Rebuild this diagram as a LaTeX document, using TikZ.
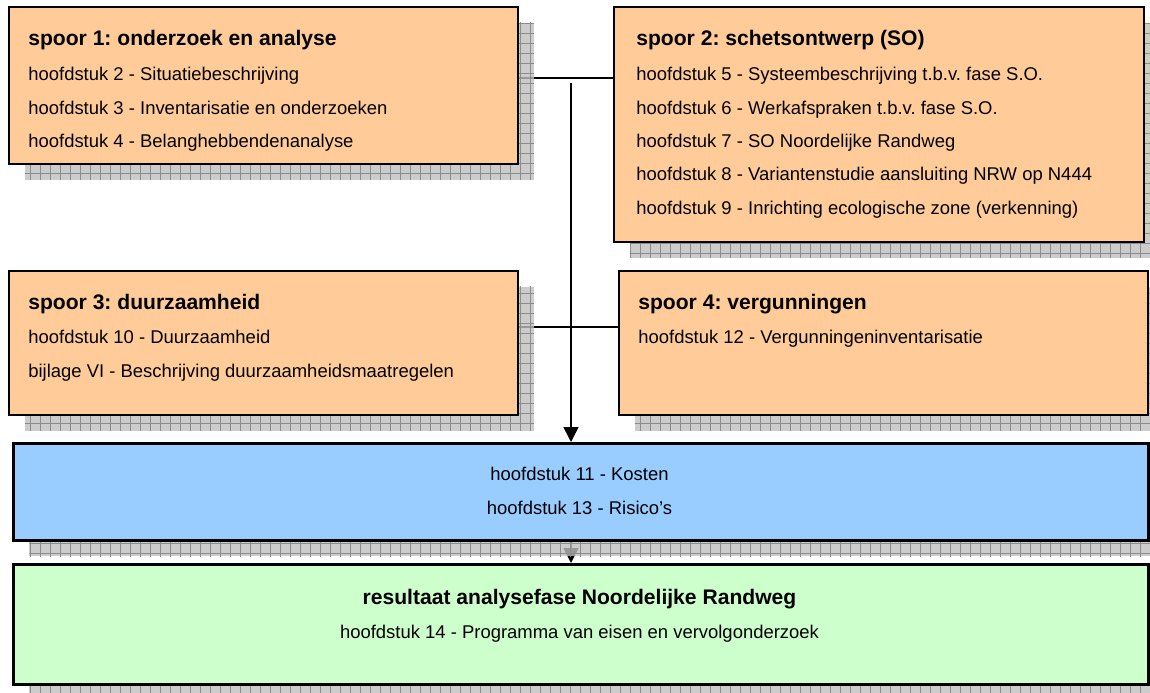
\documentclass[tikz,border=0pt]{standalone}
\usepackage{fontspec}
\setmainfont{Liberation Sans}
\frenchspacing
\usetikzlibrary{arrows.meta,patterns.meta,backgrounds}

\definecolor{peach}{HTML}{FFCC99}
\definecolor{skyblue}{HTML}{99CCFF}
\definecolor{mintgreen}{HTML}{CCFFCC}

\tikzset{
  shadowed/.style={
    preaction={fill=black!25, fill opacity=0.8,
      transform canvas={shift={(0.32,-0.32)}}},
    preaction={pattern={Hatch[angle=0,distance=0.2cm,line width=0.4pt]},
      pattern color=black!45, transform canvas={shift={(0.32,-0.32)}}}
  },
  spoorbox/.style={
    rectangle,
    draw,
    line width=1.1pt,
    fill=peach,
    shadowed,
    anchor=north west,
    inner sep=0pt
  },
  mainbox/.style={
    spoorbox,
    line width=1.7pt
  },
  title/.style={
    anchor=base west,
    inner sep=0pt,
    font=\fontsize{12}{14}\selectfont\bfseries
  },
  item/.style={
    anchor=base west,
    inner sep=0pt,
    font=\fontsize{10.5}{13}\selectfont
  },
  link/.style={
    line width=0.9pt
  },
}

\begin{document}
\begin{tikzpicture}
  \useasboundingbox (0,0) rectangle (23,-13.86);
  \clip (0,0) rectangle (23,-13.86);

  \node[spoorbox, minimum width=10.18cm, minimum height=3.14cm] (spoor1) at (0.16,-0.12) {};
  \node[spoorbox, minimum width=10.6cm, minimum height=4.7cm] (spoor2) at (12.26,-0.12) {};
  \node[spoorbox, minimum width=10.18cm, minimum height=2.88cm] (spoor3) at (0.16,-5.4) {};
  \node[spoorbox, minimum width=10.58cm, minimum height=2.88cm] (spoor4) at (12.36,-5.4) {};
  \node[mainbox, fill=skyblue, minimum width=22.7cm, minimum height=1.94cm] (kosten) at (0.24,-8.84) {};
  \node[mainbox, fill=mintgreen, minimum width=22.7cm, minimum height=2.4cm] (resultaat) at (0.24,-11.26) {};

  \node[title] (t1) at (0.56,-0.92) {spoor 1: onderzoek en analyse};
  \foreach \t [count=\i] in {hoofdstuk 2 - Situatiebeschrijving,
      hoofdstuk 3 - Inventarisatie en onderzoeken,
      hoofdstuk 4 - Belanghebbendenanalyse}
    \node[item] (h1-\i) at (0.56,-0.95-0.667*\i) {\t};

  \node[title] (t2) at (12.72,-0.92) {spoor 2: schetsontwerp (SO)};
  \foreach \t [count=\i] in {hoofdstuk 5 - Systeembeschrijving t.b.v. fase S.O.,
      hoofdstuk 6 - Werkafspraken t.b.v. fase S.O.,
      hoofdstuk 7 - SO Noordelijke Randweg,
      hoofdstuk 8 - Variantenstudie aansluiting NRW op N444,
      hoofdstuk 9 - Inrichting ecologische zone (verkenning)}
    \node[item] (h2-\i) at (12.72,-0.95-0.667*\i) {\t};

  \node[title] (t3) at (0.56,-6.2) {spoor 3: duurzaamheid};
  \foreach \t [count=\i] in {hoofdstuk 10 - Duurzaamheid,
      bijlage VI - Beschrijving duurzaamheidsmaatregelen}
    \node[item] (h3-\i) at (0.56,-6.2-0.68*\i) {\t};

  \node[title] (t4) at (12.76,-6.2) {spoor 4: vergunningen};
  \node[item] (h4-1) at (12.76,-6.88) {hoofdstuk 12 - Vergunningeninventarisatie};

  \node[item, anchor=base] (h5-1) at (11.59,-9.6) {hoofdstuk 11 - Kosten};
  \node[item, anchor=base] (h5-2) at (11.59,-10.28) {hoofdstuk 13 - Risico's};

  \node[title, anchor=base] (t6) at (11.59,-12.08) {resultaat analysefase Noordelijke Randweg};
  \node[item, anchor=base] (h6-1) at (11.59,-12.76) {hoofdstuk 14 - Programma van eisen en vervolgonderzoek};

  \coordinate (j12) at (11.42,-1.56);
  \coordinate (j34) at (11.42,-6.54);
  \coordinate (top) at (11.42,-1.66);

  \begin{pgfonlayer}{background}
    \draw[link] (spoor1.east |- j12) -- (spoor2.west |- j12);
    \draw[link] (spoor3.east |- j34) -- (spoor4.west |- j34);
    \draw[link, -{Triangle[width=0.3cm,length=0.3cm]}] (top) -- (kosten.north -| top);
    \draw[link, -{Triangle[width=0.3cm,length=0.3cm]}] (kosten.south -| top) -- (resultaat.north -| top);
  \end{pgfonlayer}
\end{tikzpicture}
\end{document}
